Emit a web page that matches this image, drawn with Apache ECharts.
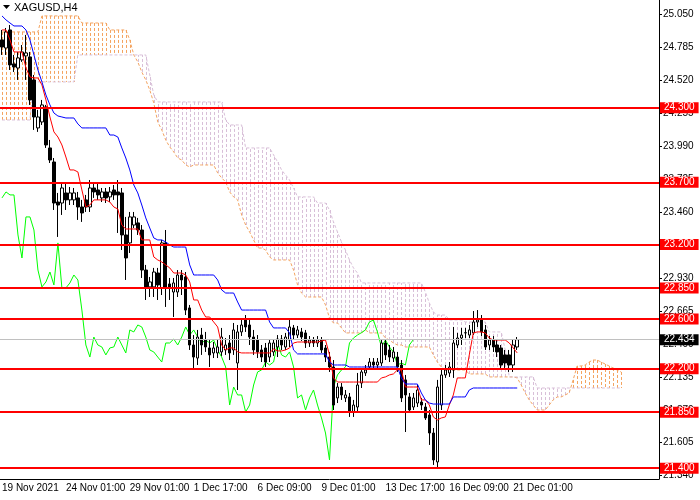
<!DOCTYPE html>
<html>
<head>
<meta charset="utf-8">
<script src="https://cdn.jsdelivr.net/npm/echarts@6/dist/echarts.min.js"></script>
<style>
  html, body { margin: 0; padding: 0; background: #fff; }
  #chart { width: 700px; height: 500px; }
</style>
</head>
<body>
<div id="chart"></div>
<script>
// XAGUSD H4, 19 Nov - 21 Dec 2021, with Ichimoku
const tickLabels = ['19 Nov 2021', '24 Nov 01:00', '29 Nov 01:00', '1 Dec 17:00', '6 Dec 09:00',
  '9 Dec 01:00', '13 Dec 17:00', '16 Dec 09:00', '21 Dec 01:00'];
const yTicks = [21.34, 21.605, 21.87, 22.135, 22.4, 22.665, 22.93, 23.195, 23.46, 23.725,
  23.99, 24.255, 24.52, 24.785, 25.05];
const levels = [24.3, 23.7, 23.2, 22.85, 22.6, 22.2, 21.85, 21.4];
const lastPrice = 22.434;

const opens = [
  24.845,24.780,24.925,24.652,24.619,24.684,24.716,24.708,24.523,24.137,
  24.185,24.306,23.976,23.863,23.541,23.533,23.614,23.558,23.558,23.574,
  23.501,23.558,23.501,23.654,23.638,23.574,23.622,23.582,23.638,23.622,
  23.614,23.276,23.212,23.356,23.373,23.316,22.994,22.858,22.858,22.970,
  22.850,23.212,22.882,22.817,22.817,22.954,22.938,22.689,22.391,22.286,
  22.471,22.431,22.367,22.327,22.327,22.335,22.351,22.407,22.351,22.246,
  22.496,22.592,22.552,22.455,22.431,22.351,22.367,22.294,22.335,22.375,
  22.439,22.375,22.431,22.528,22.471,22.496,22.488,22.407,22.431,22.407,
  22.431,22.367,22.294,22.214,21.965,22.053,21.965,21.973,21.852,21.892,
  22.085,22.166,22.214,22.254,22.230,22.246,22.407,22.351,22.286,22.294,
  22.230,22.110,21.973,21.892,21.924,21.932,21.892,21.828,21.683,21.450,
  21.908,22.150,22.166,22.190,22.391,22.447,22.488,22.471,22.488,22.576,
  22.592,22.512,22.391,22.431,22.391,22.367,22.311,22.311,22.230,22.375];
const closes = [
  24.788,24.909,24.644,24.627,24.700,24.748,24.740,24.362,24.225,24.225,
  24.322,24.000,23.879,23.533,23.517,23.654,23.558,23.614,23.614,23.501,
  23.453,23.501,23.654,23.622,23.598,23.622,23.574,23.622,23.598,23.598,
  23.276,23.091,23.421,23.421,23.316,22.994,22.858,22.898,22.978,22.874,
  23.212,22.850,22.850,22.890,22.954,22.914,22.672,22.391,22.294,22.455,
  22.391,22.375,22.311,22.367,22.375,22.455,22.391,22.327,22.512,22.496,
  22.552,22.536,22.455,22.351,22.335,22.294,22.254,22.407,22.407,22.439,
  22.391,22.455,22.536,22.471,22.512,22.455,22.407,22.431,22.407,22.431,
  22.351,22.294,22.214,21.908,22.053,21.989,21.989,21.852,21.908,22.069,
  22.174,22.190,22.254,22.230,22.254,22.407,22.311,22.294,22.335,22.214,
  21.965,21.989,21.868,21.965,22.029,21.908,21.804,21.683,21.466,22.053,
  22.150,22.190,22.214,22.407,22.447,22.471,22.490,22.512,22.576,22.592,
  22.496,22.375,22.431,22.375,22.335,22.230,22.246,22.230,22.391,22.434];
const highs = [
  24.925,24.941,24.965,24.724,24.748,24.804,24.885,24.748,24.563,24.282,
  24.362,24.322,24.040,23.895,23.614,23.694,23.694,23.662,23.654,23.622,
  23.558,23.598,23.718,23.694,23.694,23.654,23.654,23.662,23.678,23.718,
  23.654,23.421,23.461,23.461,23.413,23.356,23.035,22.938,23.011,23.011,
  23.236,23.316,22.930,22.930,22.994,22.994,22.978,22.713,22.471,22.512,
  22.528,22.496,22.431,22.415,22.431,22.528,22.447,22.471,22.568,22.552,
  22.592,22.632,22.592,22.512,22.471,22.391,22.407,22.431,22.431,22.471,
  22.471,22.488,22.592,22.552,22.544,22.528,22.512,22.463,22.455,22.463,
  22.455,22.391,22.335,22.270,22.085,22.085,22.029,22.005,21.949,22.166,
  22.206,22.230,22.286,22.286,22.286,22.431,22.431,22.391,22.375,22.335,
  22.270,22.150,22.005,22.005,22.069,21.965,21.924,21.868,21.723,22.110,
  22.190,22.230,22.254,22.536,22.488,22.528,22.528,22.552,22.664,22.672,
  22.632,22.552,22.463,22.463,22.431,22.391,22.351,22.351,22.431,22.455];
const lows = [
  24.724,24.724,24.603,24.587,24.523,24.668,24.523,24.322,24.121,24.105,
  24.161,23.976,23.855,23.477,23.260,23.437,23.477,23.517,23.517,23.397,
  23.381,23.461,23.461,23.574,23.558,23.541,23.533,23.541,23.558,23.292,
  23.155,22.914,23.131,23.332,23.276,22.930,22.753,22.777,22.777,22.753,
  22.793,22.697,22.753,22.616,22.777,22.793,22.632,22.351,22.190,22.230,
  22.311,22.335,22.214,22.286,22.286,22.303,22.311,22.270,22.311,22.029,
  22.463,22.496,22.391,22.311,22.286,22.254,22.214,22.254,22.303,22.294,
  22.351,22.351,22.375,22.431,22.447,22.423,22.367,22.375,22.375,22.375,
  22.327,22.254,22.174,21.868,21.924,21.949,21.932,21.812,21.812,21.844,
  22.045,22.142,22.190,22.206,22.206,22.222,22.270,22.254,22.254,22.174,
  21.932,21.691,21.844,21.868,21.892,21.868,21.788,21.587,21.426,21.401,
  21.868,22.126,22.134,22.126,22.367,22.391,22.447,22.447,22.471,22.536,
  22.463,22.351,22.351,22.335,22.294,22.190,22.206,22.174,22.174,22.351];

// Tenkan-sen (red) and Kijun-sen (blue)
const tenkan = [
  24.925,24.925,24.845,24.748,24.748,24.748,24.619,24.547,24.539,24.539,
  24.483,24.362,24.225,24.105,24.064,24.000,23.903,23.799,23.799,23.783,
  23.638,23.501,23.517,23.558,23.558,23.558,23.558,23.541,23.501,23.485,
  23.356,23.324,23.324,23.324,23.324,23.236,23.236,23.236,23.099,23.075,
  23.059,23.035,23.011,22.970,22.970,22.970,22.954,22.898,22.753,22.753,
  22.672,22.616,22.616,22.576,22.536,22.391,22.351,22.367,22.367,22.335,
  22.327,22.327,22.327,22.327,22.327,22.327,22.327,22.327,22.359,22.343,
  22.343,22.351,22.367,22.407,22.415,22.415,22.415,22.415,22.415,22.415,
  22.423,22.431,22.311,22.126,22.093,22.093,22.093,22.093,22.093,22.093,
  22.093,22.093,22.093,22.093,22.093,22.126,22.134,22.150,22.158,22.190,
  22.190,22.053,22.053,22.053,22.053,21.949,21.949,21.908,21.812,21.788,
  21.804,21.812,21.908,21.989,22.126,22.126,22.126,22.311,22.488,22.496,
  22.496,22.488,22.447,22.431,22.431,22.431,22.431,22.407,22.367,22.327];
const kijun = [
  25.038,25.006,24.981,24.957,24.957,24.957,24.925,24.845,24.724,24.603,
  24.507,24.402,24.322,24.257,24.233,24.225,24.217,24.217,24.217,24.169,
  24.137,24.137,24.137,24.137,24.137,24.137,24.137,24.080,24.080,24.064,
  23.976,23.895,23.799,23.678,23.614,23.517,23.413,23.332,23.252,23.236,
  23.236,23.220,23.196,23.179,23.179,23.179,23.179,23.035,22.954,22.954,
  22.954,22.954,22.954,22.954,22.914,22.834,22.809,22.809,22.809,22.737,
  22.672,22.672,22.672,22.672,22.672,22.672,22.672,22.576,22.528,22.528,
  22.528,22.528,22.488,22.351,22.319,22.319,22.319,22.319,22.319,22.319,
  22.319,22.319,22.254,22.230,22.230,22.230,22.230,22.214,22.214,22.214,
  22.214,22.214,22.214,22.214,22.214,22.214,22.214,22.214,22.214,22.214,
  22.126,22.077,22.077,22.077,22.077,22.005,21.949,21.924,21.916,21.916,
  21.916,21.916,21.916,21.973,21.973,21.973,21.973,22.029,22.045,22.045,
  22.045,22.045,22.045,22.045,22.045,22.045,22.045,22.045,22.045,22.045];

// Senkou Span A (sandy brown) and B (thistle), already shifted 26 bars forward
const spanA = [
  24.909,24.909,24.909,24.909,24.909,24.909,24.909,24.909,24.909,24.909,
  25.038,25.038,25.038,25.038,25.038,25.038,25.038,25.038,25.038,25.038,
  24.981,24.981,24.981,24.981,24.981,24.981,24.981,24.925,24.925,24.925,
  24.925,24.925,24.845,24.724,24.668,24.587,24.523,24.442,24.338,24.185,
  24.121,24.040,23.984,23.944,23.895,23.879,23.839,23.823,23.839,23.839,
  23.839,23.839,23.839,23.839,23.775,23.735,23.702,23.622,23.582,23.558,
  23.437,23.356,23.300,23.236,23.171,23.171,23.155,23.099,23.075,23.075,
  23.075,23.075,23.075,22.994,22.874,22.809,22.777,22.777,22.777,22.777,
  22.777,22.713,22.608,22.568,22.568,22.528,22.488,22.488,22.488,22.488,
  22.488,22.512,22.488,22.488,22.488,22.488,22.447,22.431,22.407,22.391,
  22.391,22.375,22.375,22.375,22.375,22.375,22.375,22.375,22.311,22.254,
  22.214,22.190,22.190,22.190,22.190,22.190,22.190,22.158,22.158,22.158,
  22.158,22.158,22.134,22.134,22.134,22.134,22.134,22.134,22.134,22.126,
  22.069,22.005,21.949,21.908,21.868,21.868,21.868,21.908,21.949,21.973,
  21.973,21.989,22.005,22.110,22.222,22.222,22.230,22.254,22.270,22.270,
  22.254,22.238,22.222,22.206,22.190,22.174];
const spanB = [
  24.201,24.201,24.201,24.201,24.201,24.201,24.201,24.201,24.507,24.507,
  24.507,24.507,24.507,24.507,24.507,24.507,24.507,24.507,24.507,24.724,
  24.724,24.724,24.724,24.724,24.724,24.724,24.724,24.724,24.724,24.724,
  24.724,24.724,24.724,24.724,24.724,24.724,24.724,24.563,24.402,24.346,
  24.346,24.346,24.346,24.346,24.346,24.346,24.346,24.346,24.346,24.346,
  24.346,24.346,24.346,24.346,24.346,24.346,24.201,24.161,24.161,24.161,
  24.161,23.976,23.976,23.976,23.976,23.976,23.976,23.976,23.920,23.863,
  23.799,23.759,23.718,23.654,23.582,23.582,23.582,23.582,23.582,23.533,
  23.533,23.533,23.477,23.381,23.300,23.220,23.155,23.075,23.011,22.970,
  22.890,22.890,22.890,22.890,22.890,22.890,22.890,22.890,22.890,22.890,
  22.890,22.890,22.890,22.890,22.890,22.890,22.817,22.729,22.656,22.632,
  22.632,22.632,22.592,22.592,22.592,22.592,22.576,22.576,22.576,22.576,
  22.576,22.576,22.496,22.496,22.496,22.496,22.351,22.134,22.134,22.134,
  22.134,22.134,22.134,22.134,22.045,22.045,22.045,22.045,22.045,22.045,
  22.045,22.045,22.045,22.045,22.045,22.045,22.045,22.045,22.045,22.045,
  22.045,22.045,22.045,22.045,22.045,22.045];

const SLOTS = 165;
const BAR_STEP = 16;
const FONT = 'Liberation Sans';

const categories = [];
for (let i = 0; i < SLOTS; i++) categories.push(String(i));

const candles = opens.map((o, i) => [o, closes[i], lows[i], highs[i]]);
// Chikou span: the close plotted 26 bars back
const chikou = closes.slice(26);
const cloud = spanA.map((a, i) => [i, a, spanB[i]]);

const showTick = (i) => i % BAR_STEP === 0 && i / BAR_STEP < tickLabels.length;

function renderHatch(params, api) {
  const a = api.value(1);
  const b = api.value(2);
  const p1 = api.coord([api.value(0), a]);
  const p2 = api.coord([api.value(0), b]);
  const x = Math.round(p1[0]) + 0.5;
  return {
    type: 'line',
    silent: true,
    shape: { x1: x, y1: p1[1], x2: x, y2: p2[1] },
    style: { stroke: a > b ? '#f4a460' : '#d8bfd8', lineWidth: 1, lineDash: [3, 2] }
  };
}

const levelLines = levels.map(v => ({ yAxis: v }));
levelLines.push({
  yAxis: lastPrice,
  lineStyle: { color: '#c0c0c0', width: 1, type: 'solid' },
  label: { backgroundColor: '#000000' }
});

const chart = echarts.init(document.getElementById('chart'));
chart.setOption({
  animation: false,
  backgroundColor: '#ffffff',
  grid: { left: 0, right: 41, top: 0, bottom: 21, containLabel: false, outerBoundsMode: 'none' },
  graphic: [
    { type: 'polygon', shape: { points: [[3, 5], [10, 5], [6.5, 9]] }, style: { fill: '#000' } },
    { type: 'text', left: 14, top: 2, style: { text: 'XAGUSD,H4', font: '11px ' + FONT, fill: '#000' } }
  ],
  xAxis: {
    type: 'category',
    data: categories,
    boundaryGap: true,
    axisLine: { lineStyle: { color: '#000', width: 1 } },
    axisTick: { interval: showTick, length: 4, lineStyle: { color: '#000' } },
    axisLabel: {
      interval: showTick,
      formatter: (v, i) => tickLabels[i / BAR_STEP] || '',
      align: 'left',
      margin: 4,
      color: '#000',
      fontSize: 10,
      fontFamily: FONT
    },
    splitLine: { show: false }
  },
  yAxis: {
    type: 'value',
    position: 'right',
    min: 21.313,
    max: 25.166,
    axisLine: { show: true, lineStyle: { color: '#000', width: 1 } },
    axisTick: { show: true, length: 3, customValues: yTicks, lineStyle: { color: '#000' } },
    axisLabel: {
      customValues: yTicks,
      formatter: v => v.toFixed(3),
      margin: 4,
      color: '#000',
      fontSize: 10,
      fontFamily: FONT
    },
    splitLine: { show: false }
  },
  series: [
    {
      name: 'Cloud',
      type: 'custom',
      renderItem: renderHatch,
      data: cloud,
      encode: { x: 0, y: [1, 2] },
      silent: true,
      z: 1
    },
    {
      name: 'Senkou Span A',
      type: 'line',
      data: spanA,
      symbol: 'none',
      silent: true,
      lineStyle: { color: '#f4a460', width: 1, type: [3, 2] },
      z: 1
    },
    {
      name: 'Senkou Span B',
      type: 'line',
      data: spanB,
      symbol: 'none',
      silent: true,
      lineStyle: { color: '#d8bfd8', width: 1, type: [3, 2] },
      z: 1
    },
    {
      name: 'Chikou Span',
      type: 'line',
      data: chikou,
      symbol: 'none',
      silent: true,
      lineStyle: { color: '#00ff00', width: 1 },
      z: 2
    },
    {
      name: 'XAGUSD',
      type: 'candlestick',
      data: candles,
      barWidth: 3,
      itemStyle: {
        color: '#ffffff',
        color0: '#000000',
        borderColor: '#000000',
        borderColor0: '#000000',
        borderWidth: 1
      },
      z: 3,
      markLine: {
        silent: true,
        precision: 3,
        symbol: ['none', 'none'],
        lineStyle: { color: '#ff0000', width: 2, type: 'solid' },
        label: {
          position: 'end',
          distance: 1,
          formatter: p => Number(p.value).toFixed(3),
          color: '#ffffff',
          backgroundColor: '#ff0000',
          padding: [1, 4, 0, 4],
          fontSize: 10,
          fontFamily: FONT
        },
        data: levelLines
      }
    },
    {
      name: 'Tenkan-sen',
      type: 'line',
      data: tenkan,
      symbol: 'none',
      silent: true,
      lineStyle: { color: '#ff0000', width: 1 },
      z: 4
    },
    {
      name: 'Kijun-sen',
      type: 'line',
      data: kijun,
      symbol: 'none',
      silent: true,
      lineStyle: { color: '#0000ff', width: 1 },
      z: 4
    }
  ]
});
</script>
</body>
</html>
